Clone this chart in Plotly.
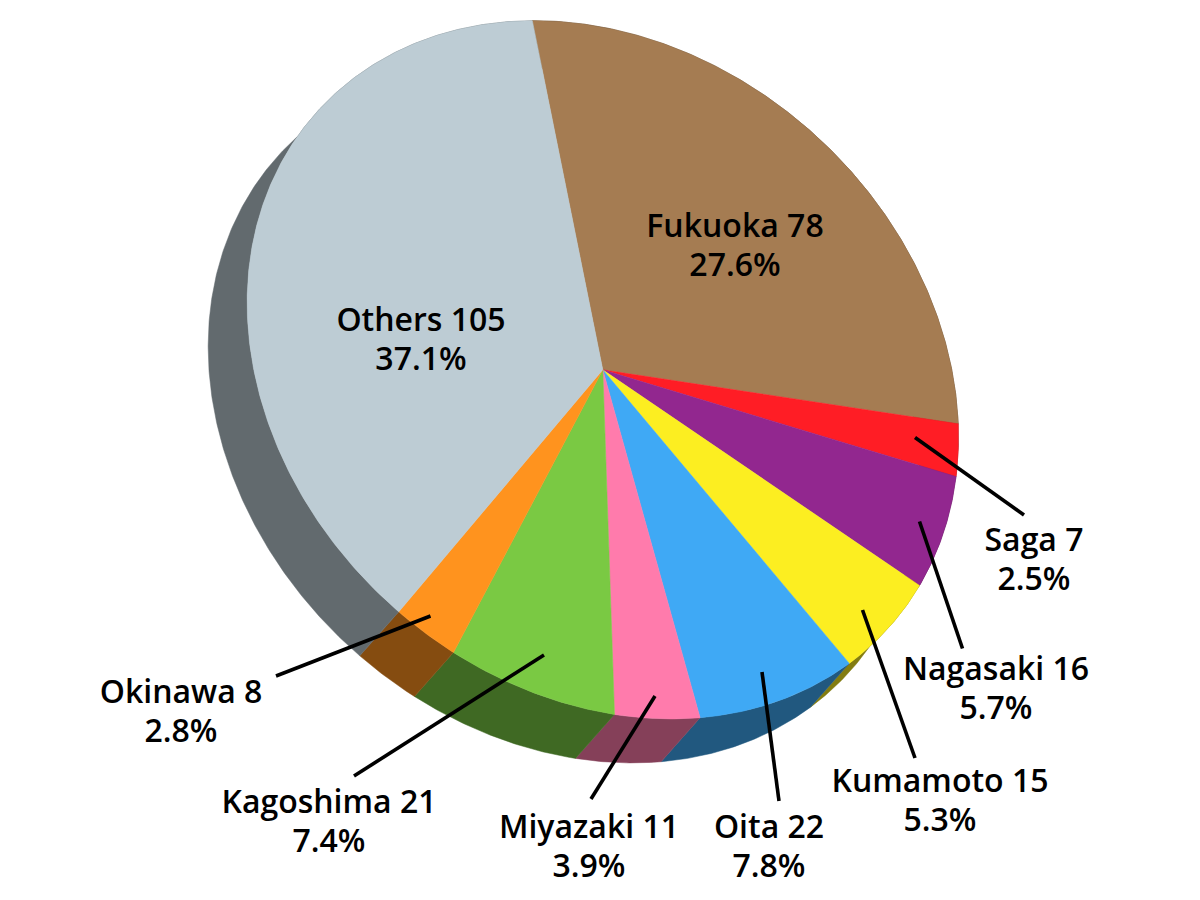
import numpy as np
import plotly.graph_objects as go

names = ["Fukuoka", "Saga", "Nagasaki", "Kumamoto", "Oita", "Miyazaki", "Kagoshima", "Okinawa", "Others"]
values = [78, 7, 16, 15, 22, 11, 21, 8, 105]
colors = ["#A57C52", "#FF1D25", "#92278F", "#FCEE21", "#3FA9F5", "#FF7BAC", "#7AC943", "#FF931E", "#BDCCD4"]

# projection of the tilted disc onto the page (page pixels)
HUB = np.array([602.8, 369.8])
TILT = np.array([[-70.45, 348.6], [-349.11, -1.97]])
DEPTH = np.array([-39.0, 44.0])
SHADE = 0.52

# label centres (page pixels) and leader lines, in the order of names
label_x = [735, 1034, 996, 940, 769, 589, 329, 181, 421]
label_y = [248, 562, 691, 803, 849, 849, 824, 714, 342]
LINE_GAP = 19.5
leader_x = [None, (915, 1024), (919.5, 962.5), (862.5, 915), (762, 779), (655, 591), (544, 354), (430.5, 276), None]
leader_y = [None, (437.5, 515), (521.5, 648.5), (610, 758), (672, 801), (696, 799), (655, 776), (616, 676), None]

total = sum(values)
edges = np.cumsum([0] + values) / total


def disc(fr):
    t = 2 * np.pi * np.asarray(fr)
    return HUB + (TILT @ np.vstack([np.cos(t), np.sin(t)])).T


def shade(hex_color):
    rgb = [int(hex_color[i:i + 2], 16) for i in (1, 3, 5)]
    return "rgb({},{},{})".format(*[round(c * SHADE) for c in rgb])


fig = go.Figure()
for i, name in enumerate(names):
    fr = np.linspace(edges[i], edges[i + 1], max(8, int(values[i] * 3)))
    arc = disc(fr)
    band = np.vstack([arc, (arc + DEPTH)[::-1], arc[:1]])
    col = shade(colors[i])
    fig.add_trace(go.Scatter(x=band[:, 0], y=band[:, 1], mode="lines", fill="toself", fillcolor=col,
                             line=dict(color=col, width=0.5), hoverinfo="skip", name=name + " side"))
for i, name in enumerate(names):
    fr = np.linspace(edges[i], edges[i + 1], max(8, int(values[i] * 3)))
    arc = disc(fr)
    wedge = np.vstack([HUB, arc, HUB])
    fig.add_trace(go.Scatter(x=wedge[:, 0], y=wedge[:, 1], mode="lines", fill="toself", fillcolor=colors[i],
                             line=dict(color=colors[i], width=0.5), hoverinfo="text",
                             text=f"{name} {values[i]}", name=name))
for i, name in enumerate(names):
    if leader_x[i] is not None:
        fig.add_trace(go.Scatter(x=list(leader_x[i]), y=list(leader_y[i]), mode="lines",
                                 line=dict(color="#000000", width=3.6), hoverinfo="skip", name=name + " leader"))
label_font = dict(family="Open Sans", size=32, color="#000000", weight=600)
fig.add_trace(go.Scatter(
    x=label_x, y=[y - LINE_GAP for y in label_y], mode="text",
    text=[f"{n} {v}" for n, v in zip(names, values)],
    textposition="middle center", textfont=label_font, hoverinfo="skip", name="labels"))
fig.add_trace(go.Scatter(
    x=label_x, y=[y + LINE_GAP for y in label_y], mode="text",
    text=[f"{v / total * 100:.1f}%" for v in values],
    textposition="middle center", textfont=label_font, hoverinfo="skip", name="shares"))

fig.update_layout(
    width=1200, height=900, margin=dict(l=0, r=0, t=0, b=0), showlegend=False,
    paper_bgcolor="#FFFFFF", plot_bgcolor="#FFFFFF",
    xaxis=dict(range=[0, 1200], visible=False, fixedrange=True),
    yaxis=dict(range=[900, 0], visible=False, fixedrange=True),
)
fig.write_html("out.html", config={"displayModeBar": False},
               post_script="document.body.style.margin='0';document.body.style.overflow='hidden';")
